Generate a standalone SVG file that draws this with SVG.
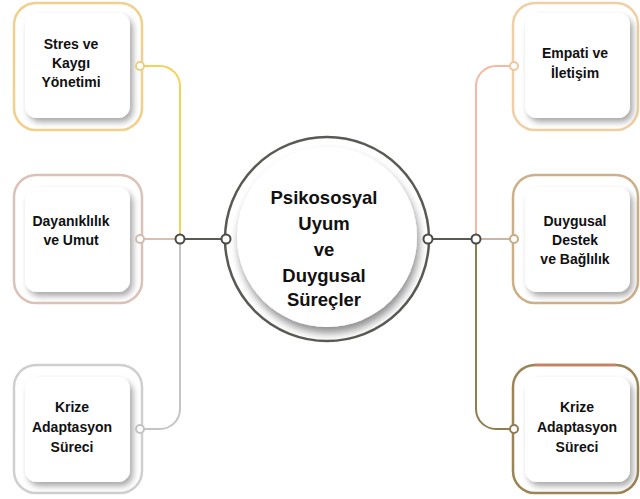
<svg xmlns="http://www.w3.org/2000/svg" width="640" height="499" viewBox="0 0 640 499">
<defs>
<filter id="sh" x="-20%" y="-20%" width="150%" height="150%">
<feGaussianBlur in="SourceAlpha" stdDeviation="3"/>
<feOffset dx="3" dy="4" result="b"/>
<feComponentTransfer><feFuncA type="linear" slope="0.35"/></feComponentTransfer>
<feMerge><feMergeNode/><feMergeNode in="SourceGraphic"/></feMerge>
</filter>
<filter id="csh" x="-20%" y="-20%" width="150%" height="150%">
<feGaussianBlur in="SourceAlpha" stdDeviation="4"/>
<feOffset dx="2" dy="6" result="b"/>
<feComponentTransfer><feFuncA type="linear" slope="0.45"/></feComponentTransfer>
<feMerge><feMergeNode/><feMergeNode in="SourceGraphic"/></feMerge>
</filter>
</defs>
<style>
text{font-family:"Liberation Sans",Arial,sans-serif;font-weight:bold;fill:#111;text-anchor:middle}
.t{font-size:14px}
.c{font-size:18.5px}
.outer{fill:#fff;stroke-width:2.5}
.card{fill:#fff;filter:url(#sh)}
.ln{fill:none;stroke-width:2}
.dot{fill:#fff;stroke-width:2}
</style>
<rect width="640" height="499" fill="#fff"/>

<g id="connectors">
<path class="ln" d="M140,66 H160 A20,20 0 0 1 180,86 V239" stroke="#f3d25a"/>
<path class="ln" d="M180,239 V409 A20,20 0 0 1 160,429 H140" stroke="#c4c4c4"/>
<path class="ln" d="M140,239 H180" stroke="#d9bfb2"/>
<path class="ln" d="M180,239 H226" stroke="#5a5a55"/>
<path class="ln" d="M514,66 H496 A20,20 0 0 0 476,86 V239" stroke="#f4b8a4"/>
<path class="ln" d="M476,239 V409 A20,20 0 0 0 496,429 H514" stroke="#8f7d4f"/>
<path class="ln" d="M476,239 H514" stroke="#cdb5a4"/>
<path class="ln" d="M428,239 H476" stroke="#5a5a55"/>
<circle class="dot" cx="180" cy="239" r="4.5" stroke="#4a4a45"/>
<circle class="dot" cx="476" cy="239" r="4.5" stroke="#4a4a45"/>
</g>

<g id="center">
<circle cx="327" cy="239" r="102" fill="#fff" stroke="#5a5a55" stroke-width="2.5"/>
<circle cx="327" cy="237" r="90" fill="#fff" filter="url(#csh)"/>
<circle class="dot" cx="226" cy="239" r="4.5" stroke="#4a4a45"/>
<circle class="dot" cx="428" cy="239" r="4.5" stroke="#4a4a45"/>
<text class="c" x="324" y="204">Psikososyal</text>
<text class="c" x="324" y="230">Uyum</text>
<text class="c" x="324" y="256">ve</text>
<text class="c" x="324" y="282">Duygusal</text>
<text class="c" x="324" y="306">Süreçler</text>
</g>

<g id="n1">
<rect class="outer" x="14" y="3" width="128" height="127" rx="22" stroke="#f2cf8a"/>
<rect class="card" x="25" y="13" width="105" height="105" rx="12"/>
<circle class="dot" cx="140" cy="66" r="4" stroke="#e9cf80"/>
<text class="t" x="71" y="49">Stres ve</text>
<text class="t" x="71" y="68">Kaygı</text>
<text class="t" x="71" y="87">Yönetimi</text>
</g>

<g id="n2">
<rect class="outer" x="14" y="175" width="128" height="128" rx="22" stroke="#dcc2b6"/>
<rect class="card" x="25" y="187" width="105" height="105" rx="12"/>
<circle class="dot" cx="140" cy="239" r="4" stroke="#d0bcb2"/>
<text class="t" x="71" y="226">Dayanıklılık</text>
<text class="t" x="71" y="245">ve Umut</text>
</g>

<g id="n3">
<rect class="outer" x="14" y="365" width="128" height="128" rx="22" stroke="#cfcfcf"/>
<rect class="card" x="25" y="377" width="105" height="105" rx="12"/>
<circle class="dot" cx="140" cy="429" r="4" stroke="#c2c2c2"/>
<text class="t" x="72" y="412">Krize</text>
<text class="t" x="72" y="432">Adaptasyon</text>
<text class="t" x="72" y="452">Süreci</text>
</g>

<g id="n4">
<rect class="outer" x="513" y="3" width="125" height="127" rx="22" stroke="#f0cfa4"/>
<rect class="card" x="525" y="13" width="105" height="105" rx="12"/>
<circle class="dot" cx="514" cy="66" r="4" stroke="#eec79e"/>
<text class="t" x="575" y="58">Empati ve</text>
<text class="t" x="575" y="78">İletişim</text>
</g>

<g id="n5">
<rect class="outer" x="513" y="175" width="125" height="128" rx="22" stroke="#cdb08a"/>
<rect class="card" x="525" y="187" width="105" height="105" rx="12"/>
<circle class="dot" cx="514" cy="239" r="4" stroke="#c9ac84"/>
<text class="t" x="575" y="226">Duygusal</text>
<text class="t" x="575" y="245">Destek</text>
<text class="t" x="575" y="264">ve Bağlılık</text>
</g>

<g id="n6">
<rect class="outer" x="513" y="365" width="125" height="128" rx="22" stroke="#9b8456"/>
<path d="M535,365 H616" fill="none" stroke="#c98060" stroke-width="2.5"/>
<rect class="card" x="525" y="377" width="105" height="105" rx="12"/>
<circle class="dot" cx="514" cy="429" r="4" stroke="#8f7d4f"/>
<text class="t" x="577" y="412">Krize</text>
<text class="t" x="577" y="432">Adaptasyon</text>
<text class="t" x="577" y="452">Süreci</text>
</g>
</svg>
